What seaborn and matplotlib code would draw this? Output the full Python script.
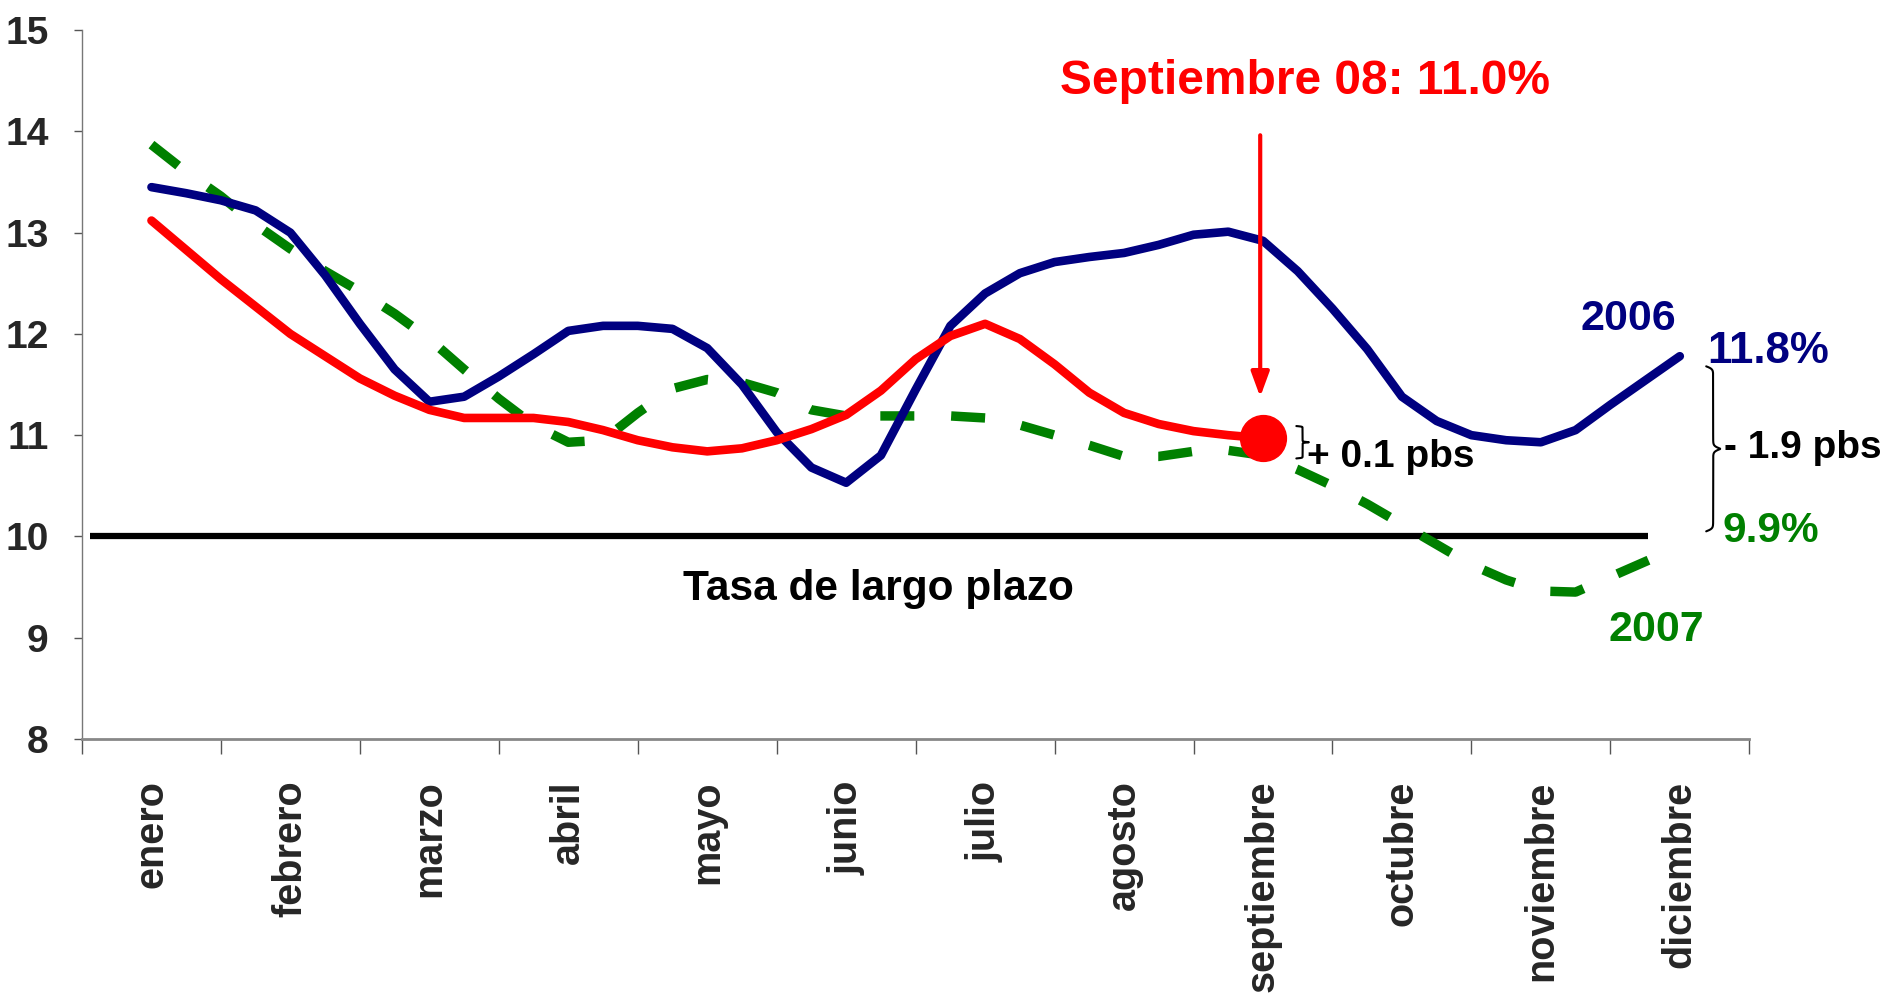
import numpy as np
import pandas as pd
import matplotlib
matplotlib.use("Agg")
import matplotlib.pyplot as plt
import seaborn as sns

meses = ["enero", "febrero", "marzo", "abril", "mayo", "junio", "julio",
         "agosto", "septiembre", "octubre", "noviembre", "diciembre"]

# posicion en meses, un punto por semana aprox.
pos_anual = np.arange(0.5, 11.51, 0.25)
pos_2008 = np.arange(0.5, 8.51, 0.25)

tasa_2006 = [13.45, 13.39, 13.32, 13.22, 13.0, 12.58, 12.1, 11.65, 11.33, 11.38,
             11.58, 11.8, 12.03, 12.08, 12.08, 12.05, 11.86, 11.5, 11.03, 10.68,
             10.53, 10.8, 11.45, 12.08, 12.4, 12.6, 12.71, 12.76, 12.8, 12.88,
             12.98, 13.01, 12.92, 12.62, 12.25, 11.85, 11.38, 11.14, 11.0, 10.95,
             10.93, 11.05, 11.3, 11.54, 11.78]
tasa_2007 = [13.87, 13.6, 13.36, 13.08, 12.84, 12.62, 12.42, 12.2, 11.95, 11.65,
             11.36, 11.1, 10.93, 10.95, 11.22, 11.46, 11.55, 11.52, 11.42, 11.25,
             11.19, 11.19, 11.19, 11.19, 11.17, 11.1, 11.0, 10.9, 10.79, 10.79,
             10.84, 10.85, 10.8, 10.66, 10.5, 10.32, 10.12, 9.92, 9.72, 9.57,
             9.46, 9.45, 9.6, 9.75, 9.9]
tasa_2008 = [13.12, 12.83, 12.54, 12.27, 12.0, 11.78, 11.56, 11.39, 11.25, 11.17,
             11.17, 11.17, 11.13, 11.05, 10.95, 10.88, 10.84, 10.87, 10.95, 11.06,
             11.2, 11.44, 11.75, 11.98, 12.1, 11.95, 11.7, 11.42, 11.22, 11.11,
             11.04, 11.0, 10.97]
tasa_lp = 10.0
lp_inicio, lp_fin = 0.06, 11.27

azul = "#000080"
verde = "#008000"
rojo = "#FF0000"

sns.set_style("white")
plt.rcParams['font.family'] = ['Liberation Sans', 'DejaVu Sans']
plt.rcParams['font.weight'] = 'bold'

fig = plt.figure(figsize=(18.85, 10.08), dpi=100)
ax = fig.add_axes([0.0435, 0.267, 0.8845, 0.703])

ax.plot([lp_inicio, lp_fin], [tasa_lp, tasa_lp], color="black", lw=4.5, solid_capstyle="butt")

sns.lineplot(x=pos_anual, y=tasa_2007, ax=ax, color=verde, lw=6.8)
ax.lines[-1].set_dashes([3.6, 3.9])
ax.lines[-1].set_dash_capstyle("butt")
sns.lineplot(x=pos_anual, y=tasa_2006, ax=ax, color=azul, lw=6.2)
sns.lineplot(x=pos_2008, y=tasa_2008, ax=ax, color=rojo, lw=6.2)
ax.plot(pos_2008[-1], tasa_2008[-1], "o", color=rojo, ms=33)

ax.set_xlim(0, 12)
ax.set_ylim(8, 15)
ax.set_yticks(range(8, 16))
ax.set_xticks(range(0, 13))
ax.set_xticklabels([])
ax.set_xticks(np.arange(0.5, 12, 1), minor=True)
ax.set_xticklabels(meses, minor=True, rotation=90, fontsize=28.5, fontweight="bold", va="top")
ax.tick_params(axis="x", which="major", length=11, width=1, color="#555555", direction="out", bottom=True)
ax.tick_params(axis="x", which="minor", length=0, pad=30, bottom=True)
ax.tick_params(axis="y", length=6, width=1, color="#555555", direction="out", left=True, pad=18)
for lbl in ax.get_yticklabels():
    lbl.set_fontsize(28)
    lbl.set_fontweight("bold")

sns.despine(ax=ax)
ax.spines["left"].set_color("#777777")
ax.spines["left"].set_linewidth(1)
ax.spines["bottom"].set_color("#888888")
ax.spines["bottom"].set_linewidth(2)


def llave(ax, x, y0, y1, ancho, lw=1.5):
    # llave "}" vertical en coordenadas de datos
    n = 200
    t = np.linspace(0, 1, n)
    beta = 60.0
    mitad = 1 / (1 + np.exp(-beta * (t - t[0]))) + 1 / (1 + np.exp(-beta * (t - t[-1]))) - 0.5
    xs = np.concatenate([mitad, mitad[::-1]])
    ys = np.linspace(y0, y1, 2 * n)
    ax.plot(x + ancho * xs, ys, color="black", lw=lw, clip_on=False)


# flecha y anotaciones
ax.annotate("", xy=(8.48, 11.35), xytext=(8.48, 13.99),
            arrowprops=dict(arrowstyle="-|>,head_length=1.5,head_width=0.55", color=rojo, lw=3))
ax.text(8.8, 14.49, "Septiembre 08: 11.0%", color=rojo, fontsize=34.5, fontweight="bold",
        ha="center", va="center")
ax.text(5.73, 9.48, "Tasa de largo plazo", color="black", fontsize=30.5, fontweight="bold",
        ha="center", va="center")
ax.text(11.13, 12.15, "2006", color=azul, fontsize=31, fontweight="bold", ha="center", va="center")
ax.text(11.7, 11.83, "11.8%", color=azul, fontsize=31.5, fontweight="bold", ha="left", va="center")
ax.text(11.81, 10.05, "9.9%", color=verde, fontsize=30.5, fontweight="bold", ha="left", va="center")
ax.text(11.33, 9.08, "2007", color=verde, fontsize=31, fontweight="bold", ha="center", va="center")
ax.text(11.82, 10.87, "- 1.9 pbs", color="black", fontsize=28, fontweight="bold",
        ha="left", va="center", clip_on=False)
ax.text(8.82, 10.78, "+ 0.1 pbs", color="black", fontsize=28, fontweight="bold",
        ha="left", va="center")

llave(ax, 11.69, 10.05, 11.68, 0.1)
llave(ax, 8.74, 10.77, 11.09, 0.09, lw=1.5)

fig.savefig("out.png", dpi=100)
